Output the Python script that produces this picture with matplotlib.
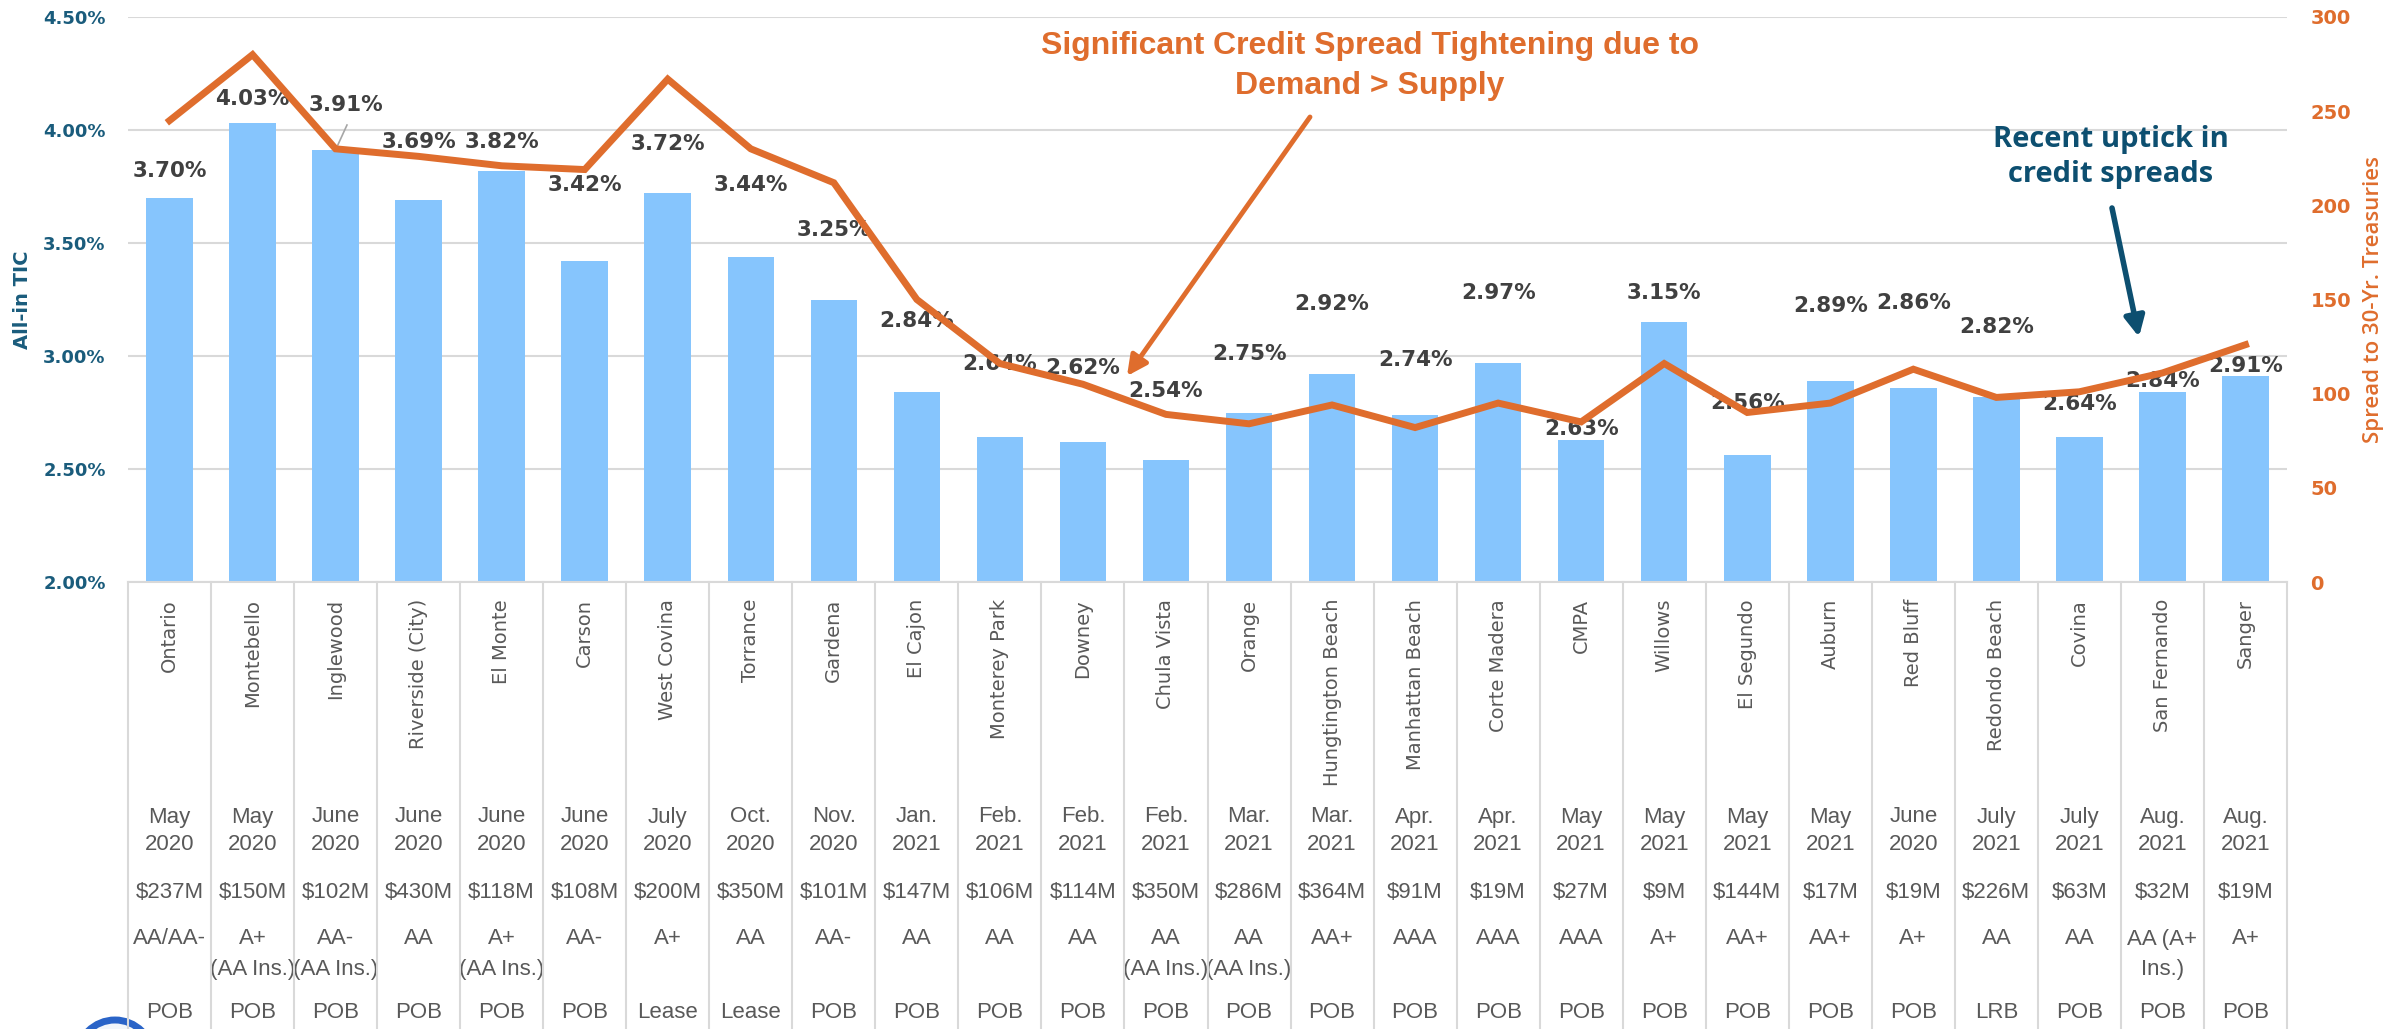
import numpy as np
import matplotlib.pyplot as plt
import matplotlib.transforms as mtransforms
from matplotlib.lines import Line2D
from matplotlib.patches import Circle

# data
cities = ["Ontario", "Montebello", "Inglewood", "Riverside (City)", "El Monte", "Carson",
          "West Covina", "Torrance", "Gardena", "El Cajon", "Monterey Park", "Downey",
          "Chula Vista", "Orange", "Hungtington Beach", "Manhattan Beach", "Corte Madera",
          "CMPA", "Willows", "El Segundo", "Auburn", "Red Bluff", "Redondo Beach", "Covina",
          "San Fernando", "Sanger"]
all_in_tic = [3.70, 4.03, 3.91, 3.69, 3.82, 3.42, 3.72, 3.44, 3.25, 2.84, 2.64, 2.62, 2.54,
              2.75, 2.92, 2.74, 2.97, 2.63, 3.15, 2.56, 2.89, 2.86, 2.82, 2.64, 2.84, 2.91]
spread_bps = [245, 280, 230, 226, 221, 219, 267, 230, 212, 150, 116, 105, 89, 84, 94, 82, 95,
              85, 116, 90, 95, 113, 98, 101, 111, 126]
months = ["May", "May", "June", "June", "June", "June", "July", "Oct.", "Nov.", "Jan.", "Feb.",
          "Feb.", "Feb.", "Mar.", "Mar.", "Apr.", "Apr.", "May", "May", "May", "May", "June",
          "July", "July", "Aug.", "Aug."]
years = ["2020"] * 9 + ["2021"] * 12 + ["2020"] + ["2021"] * 4
sizes = ["$237M", "$150M", "$102M", "$430M", "$118M", "$108M", "$200M", "$350M", "$101M",
         "$147M", "$106M", "$114M", "$350M", "$286M", "$364M", "$91M", "$19M", "$27M", "$9M",
         "$144M", "$17M", "$19M", "$226M", "$63M", "$32M", "$19M"]
ratings = ["AA/AA-", "A+\n(AA Ins.)", "AA-\n(AA Ins.)", "AA", "A+\n(AA Ins.)", "AA-", "A+",
           "AA", "AA-", "AA", "AA", "AA", "AA\n(AA Ins.)", "AA\n(AA Ins.)", "AA+", "AAA", "AAA",
           "AAA", "A+", "AA+", "AA+", "A+", "AA", "AA", "AA (A+\nIns.)", "A+"]
types = ["POB"] * 6 + ["Lease", "Lease"] + ["POB"] * 14 + ["LRB"] + ["POB"] * 3

# where each bar label sits (in % units), hand-placed like the original
label_pos = [3.82, 4.135, 4.11, 3.947, 3.947, 3.755, 3.94, 3.755, 3.557, 3.154, 2.963, 2.949,
             2.847, 3.011, 3.23, 2.984, 3.277, 2.676, 3.277, 2.792, 3.223, 3.236, 3.127, 2.786,
             2.89, 2.956]
label_dx = [0.0] * len(cities)
label_dx[2] = 0.13

W, H = 2407, 1029
ORANGE = '#DF6D2D'
TEAL = '#1A5C7C'
NAVY = '#0D4F70'
GRAY = '#595959'
GRID = '#D9D9D9'

def fx(px):
    return px / W

def fy(py):
    return 1 - py / H

fig = plt.figure(figsize=(W / 100, H / 100), dpi=100)
ax = fig.add_axes([fx(128), fy(582), (2287 - 128) / W, (582 - 17) / H])

x = np.arange(len(cities))
ax.bar(x, all_in_tic, width=0.56, color='#86C5FD', zorder=2)
ax.set_xlim(-0.5, len(cities) - 0.5)
ax.set_ylim(2.0, 4.5)
yt = np.arange(2.0, 4.51, 0.5)
ax.set_yticks(yt, labels=[f'{v:.2f}%' for v in yt], fontweight='bold', fontsize=13, color=TEAL)
ax.set_xticks([])
ax.grid(axis='y', color=GRID, lw=1.5, zorder=0)
ax.tick_params(axis='y', length=0, pad=16)
for s in ax.spines.values():
    s.set_visible(False)
ax.set_ylabel('All-in TIC', fontsize=14, fontweight='bold', color=TEAL)
ax.yaxis.set_label_coords(-0.0445, 0.5)

for i, v in enumerate(all_in_tic):
    ax.text(i + label_dx[i], label_pos[i], f'{v:.2f}%', ha='center', va='center',
            fontsize=15.5, fontweight='bold', color='#404040', zorder=4)
# leader line for Inglewood
ax.plot([2.137, 2.005], [4.022, 3.916], color='#A6A6A6', lw=1.2, zorder=4)

ax2 = ax.twinx()
ax2.plot(x, spread_bps, color=ORANGE, lw=5, solid_joinstyle='miter', zorder=3)
ax2.set_ylim(0, 300)
ax2.set_yticks(range(0, 301, 50), labels=[str(v) for v in range(0, 301, 50)],
               fontweight='bold', fontsize=14, color=ORANGE)
ax2.tick_params(axis='y', length=0, pad=17)
for s in ax2.spines.values():
    s.set_visible(False)
ax2.set_ylabel('Spread to 30-Yr. Treasuries', fontsize=16, fontweight='semibold',
               color=ORANGE, family='Open Sans')
ax2.yaxis.set_label_coords(1.035, 0.5)

# table below the chart
trans = mtransforms.blended_transform_factory(ax.transData, fig.transFigure)
for b in np.arange(-0.5, len(cities), 1.0):
    fig.add_artist(Line2D([b, b], [0, fy(582)], transform=trans, color=GRID, lw=1.5))
fig.add_artist(Line2D([-0.5, len(cities) - 0.5], [fy(582), fy(582)], transform=trans,
                      color=GRID, lw=1.5))

row_font = dict(ha='center', va='center', fontsize=16, color=GRAY, family='Liberation Sans',
                transform=trans)
for i in range(len(cities)):
    ax.text(i, fy(599), cities[i], rotation=90, ha='center', va='top', fontsize=14,
            color=GRAY, transform=trans)
    ax.text(i, fy(817), months[i], **row_font)
    ax.text(i, fy(845), years[i], **row_font)
    ax.text(i, fy(893), sizes[i], **row_font)
    for k, part in enumerate(ratings[i].split('\n')):
        ax.text(i, fy(939 + 31 * k), part, **row_font)
    ax.text(i, fy(1013), types[i], **row_font)

# callouts
fig.text(fx(1370), fy(66), 'Significant Credit Spread Tightening due to\nDemand > Supply',
         ha='center', va='center', fontsize=23, fontweight='bold', color=ORANGE,
         family=['Liberation Sans Narrow', 'Liberation Sans'], linespacing=1.45)
ax.annotate('', xy=(1127, H - 376), xytext=(1310, H - 117), xycoords='figure pixels',
            arrowprops=dict(arrowstyle='-|>', color=ORANGE, lw=3.5, mutation_scale=30,
                            shrinkA=0, shrinkB=0))

fig.text(fx(2111), fy(157), 'Recent uptick in\ncredit spreads', ha='center', va='center',
         fontsize=21, fontweight='bold', color=NAVY, family='Open Sans', linespacing=1.25)
ax.annotate('', xy=(2139, H - 337), xytext=(2112, H - 208), xycoords='figure pixels',
            arrowprops=dict(arrowstyle='-|>', color=NAVY, lw=4, mutation_scale=30,
                            shrinkA=0, shrinkB=0))

# logo peeking in at bottom-left
fig.add_artist(Circle((115, H - 1058), 38, transform=mtransforms.IdentityTransform(),
                      fc='#F2F6FB', ec='#2A64C8', lw=5))

fig.savefig('out.png', dpi=100)
